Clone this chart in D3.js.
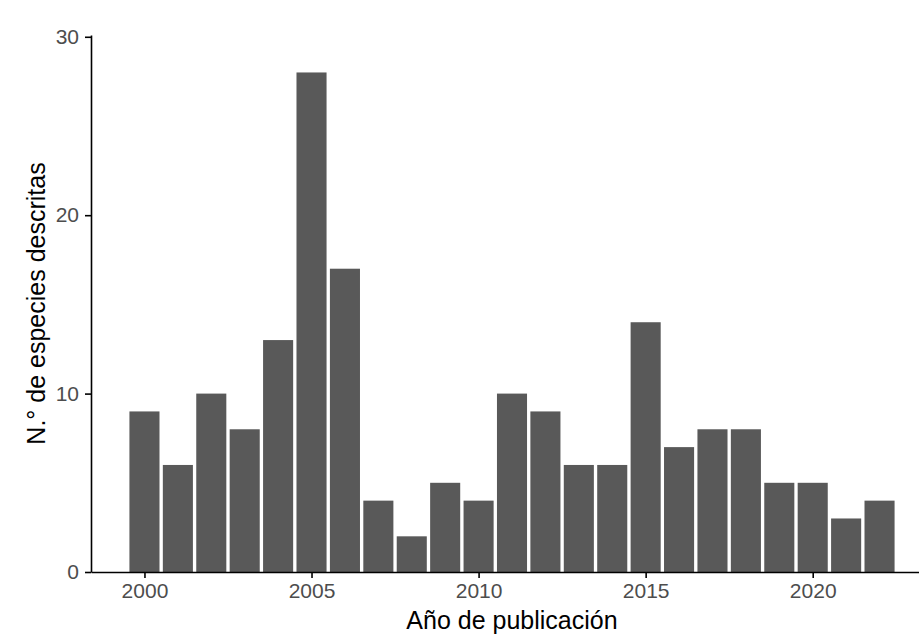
<!DOCTYPE html>
<html>
<head>
  <meta charset="utf-8">
  <script src="https://d3js.org/d3.v7.min.js"></script>
  <style>
  body {
    margin: 0;
    background: white;
  }
  .axis text {
    font-family: "Liberation Sans", Arial, sans-serif;
    font-size: 21px;
    fill: #4d4d4d;
  }
  .axis path, .axis line {
    stroke: black;
    stroke-width: 1.6px;
  }
  .title {
    font-family: "Liberation Sans", Arial, sans-serif;
    font-size: 25px;
    fill: black;
  }
  </style>
</head>
<body>
  <script type="text/javascript">

    var years = [2000, 2001, 2002, 2003, 2004, 2005, 2006, 2007, 2008, 2009, 2010, 2011,
                 2012, 2013, 2014, 2015, 2016, 2017, 2018, 2019, 2020, 2021, 2022];
    var counts = [9, 6, 10, 8, 13, 28, 17, 4, 2, 5, 4, 10,
                  9, 6, 6, 14, 7, 8, 8, 5, 5, 3, 4];
    var x_ticks = [2000, 2005, 2010, 2015, 2020];
    var y_ticks = [0, 10, 20, 30];

    var width = 919,
        height = 644,
        plot_left = 91,
        plot_right = 933,
        plot_top = 35,
        plot_bottom = 572,
        bar_width = 0.9;

    var svg = d3.select('body')
                .append('svg')
                  .attr('width', width)
                  .attr('height', height);

    // scales (continuous x like ggplot's geom_col on numeric years)
    var x_scale = d3.scaleLinear()
                    .domain([1998.4, 2023.6])
                    .range([plot_left, plot_right]);
    var y_scale = d3.scaleLinear()
                    .domain([0, 30.1])
                    .range([plot_bottom, plot_top]);

    // bars
    svg.append('g')
       .selectAll('rect')
       .data(years)
       .enter()
       .append('rect')
         .attr('x', function(d) { return x_scale(d - bar_width / 2); })
         .attr('width', function(d) { return x_scale(d + bar_width / 2) - x_scale(d - bar_width / 2); })
         .attr('y', function(d, i) { return y_scale(counts[i]); })
         .attr('height', function(d, i) { return y_scale(0) - y_scale(counts[i]); })
         .attr('fill', '#595959');

    // axes
    var x_axis = d3.axisBottom(x_scale)
                   .tickValues(x_ticks)
                   .tickFormat(d3.format('d'))
                   .tickSize(6)
                   .tickSizeOuter(0)
                   .tickPadding(5);
    var y_axis = d3.axisLeft(y_scale)
                   .tickValues(y_ticks)
                   .tickSize(6)
                   .tickSizeOuter(0)
                   .tickPadding(6);

    svg.append('g')
       .attr('class', 'x axis')
       .attr('transform', 'translate(0,' + plot_bottom + ')')
       .call(x_axis);

    svg.append('g')
       .attr('class', 'y axis')
       .attr('transform', 'translate(' + plot_left + ',0)')
       .call(y_axis);

    // axis titles
    svg.append('text')
       .attr('class', 'title')
       .attr('x', (plot_left + plot_right) / 2)
       .attr('y', 629)
       .attr('text-anchor', 'middle')
       .text('Año de publicación');

    svg.append('text')
       .attr('class', 'title')
       .attr('transform', 'translate(45,' + (plot_top + plot_bottom) / 2 + ') rotate(-90)')
       .attr('text-anchor', 'middle')
       .text('N.° de especies descritas');

  </script>
</body>
</html>
